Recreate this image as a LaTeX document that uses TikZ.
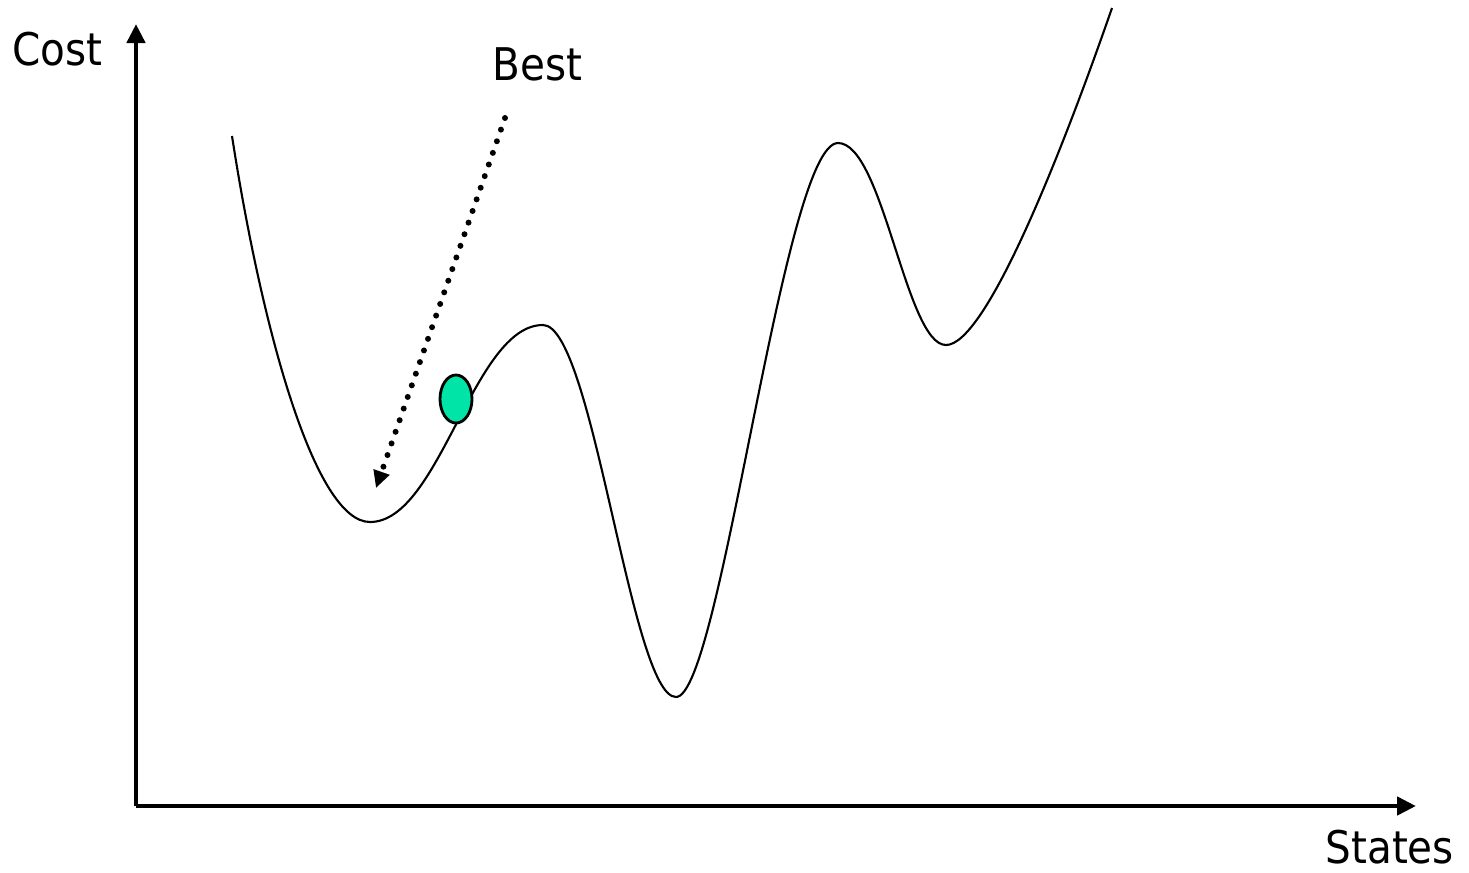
\documentclass[tikz,border=0pt]{standalone}
\usepackage{fontspec}
\setmainfont{DejaVu Sans Condensed}
\usetikzlibrary{arrows.meta,shapes.geometric}
\definecolor{ballgreen}{RGB}{0,228,168}

\begin{document}
\begin{tikzpicture}[
  x=0.01cm, y=-0.01cm,
  axis/.style={-{Triangle[length=0.19cm, width=0.18cm]}, line width=1.3pt},
  costcurve/.style={line width=0.6pt},
  hint/.style={-{Triangle[length=0.17cm, width=0.16cm]}, line width=1.7pt,
    line cap=round, dash pattern=on 0pt off 3.5pt},
  lbl/.style={anchor=base west, inner sep=0pt, font=\fontsize{12.8}{15}\selectfont}
]
\useasboundingbox (0,0) rectangle (1469,872);
% axes
\coordinate (origin) at (136,806);
\coordinate (ytop) at (136,24);
\coordinate (xend) at (1416,806);
\draw[axis] (origin) -- (ytop);
\draw[axis] (origin) -- (xend);
\node[lbl] (cost) at (12,65) {Cost};
\node[lbl] (states) at (1325,863) {States};
% cost landscape
\draw[costcurve] (232,136)
  .. controls (262,330) and (315,522) .. (370,522)
  .. controls (440,522) and (473,325) .. (543,325)
  .. controls (593,325) and (631,697) .. (676,697)
  .. controls (721,697) and (783,143) .. (838,143)
  .. controls (883,143) and (906,345) .. (946,345)
  .. controls (986,345) and (1062,152) .. (1112,8);
% current state
\node[draw, ellipse, fill=ballgreen, line width=0.8pt, minimum width=0.32cm,
  minimum height=0.48cm, inner sep=0pt] (ball) at (456,399) {};
% hint towards the best
\node[lbl] (best) at (492,80) {Best};
\coordinate (hstart) at (505,118);
\coordinate (hend) at (376,488);
\draw[hint] (hstart) -- (hend);
\end{tikzpicture}
\end{document}
